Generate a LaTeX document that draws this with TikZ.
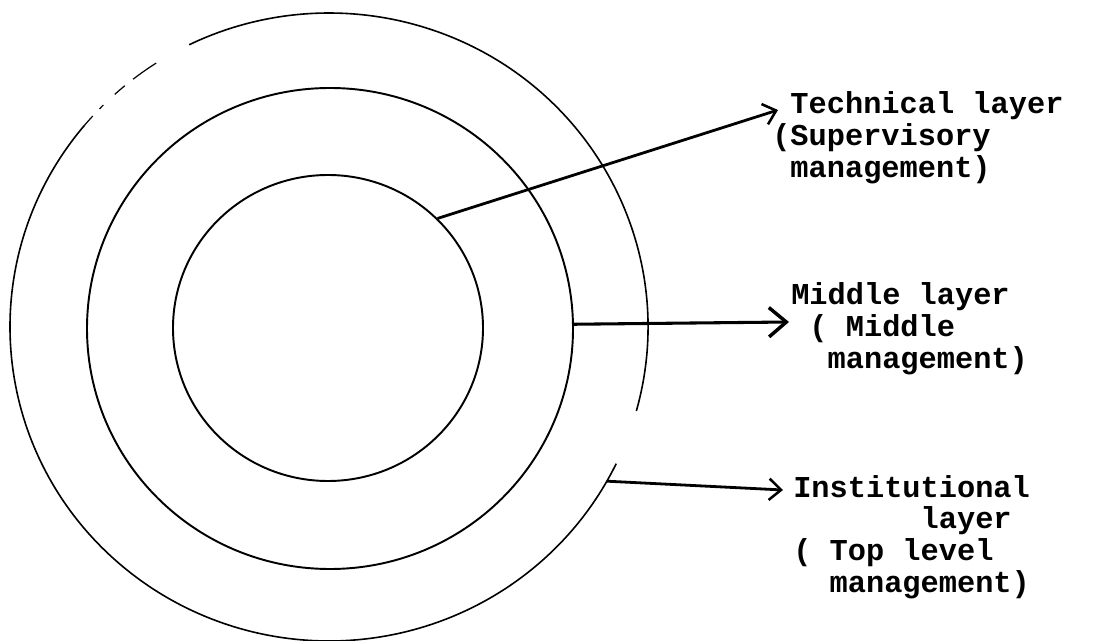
\documentclass[tikz,border=0pt]{standalone}
\usepackage{fontspec}
\newfontfamily\lblfont{Liberation Mono}
\usetikzlibrary{arrows.meta,shapes.geometric}
\begin{document}
\begin{tikzpicture}[x=0.75pt,y=0.75pt,
  ring/.style={ellipse, draw, line width=1.45pt, inner sep=0pt},
  outline/.style={line width=1.2pt},
  faint/.style={line width=0.9pt},
  lbl/.style={anchor=base west, inner sep=0pt,
    font=\lblfont\bfseries\fontsize{22.75pt}{23.8pt}\selectfont},
  pointer/.style={line width=2.1pt, -{Straight Barb[length=9pt,width=16pt,line width=1.9pt]}},
  bigpointer/.style={line width=2.3pt, -{Straight Barb[length=13pt,width=22pt,line width=2.6pt]}}
]
\useasboundingbox (0,-641) rectangle (1096,0);

% rings
\node[ring, minimum width=232.5pt, minimum height=229.5pt] (inner) at (328,-328) {};
\node[ring, minimum width=364.5pt, minimum height=360.75pt] (middle) at (330,-328.5) {};
\node[ellipse, inner sep=0pt, minimum width=478.5pt, minimum height=471pt] (outer) at (329,-327) {};

% outer ring, drawn with its gaps
\draw[outline] ([shift={(-15.5:319 and 314)}]outer.center)
  arc[start angle=-15.5, end angle=116, x radius=319, y radius=314];
\draw[outline] ([shift={(140:319 and 314)}]outer.center)
  arc[start angle=140, end angle=334.2, x radius=319, y radius=314];
\draw[faint] ([shift={(122.8:319 and 314)}]outer.center)
  arc[start angle=122.8, end angle=127.9, x radius=319, y radius=314];
\draw[faint] ([shift={(129.8:319 and 314)}]outer.center)
  arc[start angle=129.8, end angle=132.2, x radius=319, y radius=314];
\draw[faint] ([shift={(135:319 and 314)}]outer.center)
  arc[start angle=135, end angle=136, x radius=319, y radius=314];
\draw[faint] ([shift={(137.8:319 and 314)}]outer.center)
  arc[start angle=137.8, end angle=140, x radius=319, y radius=314];

% labels
\node[lbl] (tech) at (772,-114) {\begin{tabular}[t]{@{}l@{}}\phantom{(}Technical layer\\(Supervisory\\\phantom{(}management)\end{tabular}};
\node[lbl] (mid) at (791,-305) {\begin{tabular}[t]{@{}l@{}}Middle layer\\\phantom{(}( Middle\\\phantom{((}management)\end{tabular}};
\node[lbl] (inst) at (793,-497) {\begin{tabular}[t]{@{}l@{}}Institutional\\\phantom{(((((((}layer\\( Top level\\\phantom{((}management)\end{tabular}};

% arrow ends
\coordinate (techtip) at (778,-110);
\coordinate (midtip) at (789,-322);
\coordinate (insttip) at (783,-490);

\draw[pointer] (inner.45) -- (techtip);
\draw[bigpointer] (middle.1.5) -- (midtip);
\draw[pointer] (outer.-29.5) -- (insttip);
\end{tikzpicture}
\end{document}
